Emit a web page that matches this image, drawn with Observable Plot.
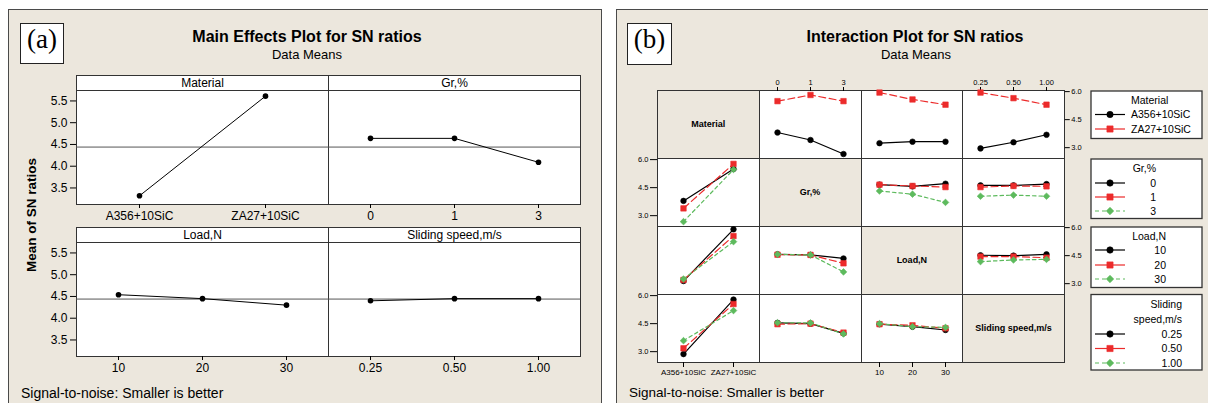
<!DOCTYPE html>
<html>
<head>
<meta charset="utf-8">
<script src="https://cdn.jsdelivr.net/npm/d3@7"></script>
<script src="https://cdn.jsdelivr.net/npm/@observablehq/plot@0.6"></script>
<style>
  html, body { margin: 0; padding: 0; background: #ffffff; }
  #root { position: relative; width: 1208px; height: 403px; overflow: hidden; background: #ffffff;
          font-family: "Liberation Sans", Arial, sans-serif; color: #000; }
  #root svg { overflow: visible; }
</style>
</head>
<body>
<div id="root"></div>
<script>
// ---------------- DATA ----------------
const materialLevels = ["A356+10SiC", "ZA27+10SiC"];
const grLevels = ["0", "1", "3"];
const loadLevels = ["10", "20", "30"];
const speedLevels = ["0.25", "0.50", "1.00"];
const factorNames = ["Material", "Gr,%", "Load,N", "Sliding speed,m/s"];

// Main effects (mean of SN ratios per factor level)
const mainMaterial = [3.32, 5.61];
const mainGr = [4.64, 4.64, 4.09];
const mainLoad = [4.54, 4.45, 4.30];
const mainSpeed = [4.40, 4.45, 4.45];
const overallMean = 4.44;
const mainYTicks = [3.5, 4.0, 4.5, 5.0, 5.5];

// Interaction means: trace factor "By" column factor; one inner array per trace level
const materialByGr    = [[3.81, 3.41, 2.66], [5.49, 5.82, 5.49]];
const materialByLoad  = [[3.24, 3.32, 3.32], [5.95, 5.58, 5.30]];
const materialBySpeed = [[2.96, 3.29, 3.69], [5.95, 5.65, 5.30]];
const grByMaterial    = [[3.79, 5.50], [3.39, 5.77], [2.68, 5.47]];
const grByLoad        = [[4.66, 4.57, 4.71], [4.66, 4.59, 4.53], [4.32, 4.15, 3.71]];
const grBySpeed       = [[4.62, 4.62, 4.69], [4.53, 4.59, 4.57], [4.04, 4.10, 4.04]];
const loadByMaterial  = [[3.14, 5.91], [3.20, 5.55], [3.25, 5.25]];
const loadByGr        = [[4.57, 4.54, 4.35], [4.55, 4.54, 4.09], [4.57, 4.54, 3.63]];
const loadBySpeed     = [[4.52, 4.50, 4.57], [4.45, 4.45, 4.39], [4.18, 4.27, 4.30]];
const speedByMaterial = [[2.87, 5.79], [3.18, 5.55], [3.59, 5.20]];
const speedByGr       = [[4.54, 4.50, 3.98], [4.47, 4.50, 4.02], [4.55, 4.54, 3.95]];
const speedByLoad     = [[4.47, 4.34, 4.16], [4.47, 4.41, 4.25], [4.50, 4.34, 4.30]];
const interYTicks = [3.0, 4.5, 6.0];

// ---------------- STYLE / LAYOUT ----------------
const FONT = '"Liberation Sans", Arial, sans-serif';
const BG = "#ece7dd";
const GRID = "#333333";
const traceStyles = [
  {color: "#000000", dash: null,      legendDash: null,    symbol: "circle",   r: 2.8},
  {color: "#ec2b2b", dash: "7,3.5",   legendDash: null,    symbol: "square",   r: 3.1},
  {color: "#5dba5d", dash: "3.5,3",   legendDash: "4,3",   symbol: "diamond2", r: 3.0}
];
const levels = [materialLevels, grLevels, loadLevels, speedLevels];
const mainMeans = [mainMaterial, mainGr, mainLoad, mainSpeed];
const interaction = [
  [null, materialByGr, materialByLoad, materialBySpeed],
  [grByMaterial, null, grByLoad, grBySpeed],
  [loadByMaterial, loadByGr, null, loadBySpeed],
  [speedByMaterial, speedByGr, speedByLoad, null]
];

const root = document.getElementById("root");
function box(left, top, w, h, style = {}, text) {
  const d = document.createElement("div");
  Object.assign(d.style, {position: "absolute", left: left + "px", top: top + "px",
    width: w + "px", height: h + "px", boxSizing: "border-box"}, style);
  if (text != null) d.textContent = text;
  root.appendChild(d);
  return d;
}
function place(node, left, top) {
  node.style.position = "absolute";
  node.style.left = left + "px";
  node.style.top = top + "px";
  root.appendChild(node);
}
function centeredText(cx, cy, w, h, text, style) {
  return box(cx - w / 2, cy - h / 2, w, h, Object.assign({textAlign: "center", lineHeight: h + "px", whiteSpace: "nowrap"}, style), text);
}

// ---------------- PANELS ----------------
box(8, 9, 594, 420, {background: BG, border: "1px solid #4a4a4a"});
box(616, 9, 620, 420, {background: BG, border: "1px solid #4a4a4a"});

// (a) / (b) tags
box(20, 23, 44, 41, {background: "#fff", border: "1px solid #222", textAlign: "center", lineHeight: "39px",
  font: '27px "Liberation Serif", "Times New Roman", serif'}, "(a)");
box(627, 23, 45, 42, {background: "#fff", border: "1px solid #222", textAlign: "center", lineHeight: "40px",
  font: '27px "Liberation Serif", "Times New Roman", serif'}, "(b)");

// titles
centeredText(307, 38, 400, 20, "Main Effects Plot for SN ratios", {font: `bold 16px ${FONT}`});
centeredText(307, 55, 200, 16, "Data Means", {font: `13px ${FONT}`});
centeredText(915, 38, 400, 20, "Interaction Plot for SN ratios", {font: `bold 16px ${FONT}`});
centeredText(916, 55, 200, 16, "Data Means", {font: `13px ${FONT}`});

// captions
box(21, 384, 300, 18, {font: `14px ${FONT}`, lineHeight: "18px", whiteSpace: "nowrap"}, "Signal-to-noise: Smaller is better");
box(629, 384, 300, 18, {font: `13.5px ${FONT}`, lineHeight: "18px", whiteSpace: "nowrap"}, "Signal-to-noise: Smaller is better");

// y title for main effects
centeredText(33.5, 215, 200, 20, "Mean of SN ratios", {font: `bold 13.5px ${FONT}`, transform: "rotate(-90deg)"});

// ---------------- MAIN EFFECTS ----------------
const meCols = [76, 328, 580];
const meRows = [{h0: 75, p0: 90, p1: 204}, {h0: 227, p0: 242, p1: 356}];
const meYDomain = [3.12, 5.74];
for (let r = 0; r < 2; r++) {
  for (let c = 0; c < 2; c++) {
    const f = r * 2 + c;
    const {h0, p0, p1} = meRows[r];
    const x0 = meCols[c], x1 = meCols[c + 1];
    const w = x1 - x0, h = p1 - p0;
    box(x0, h0, w + 1, p0 - h0 + 1, {background: "#fff", border: `1px solid ${GRID}`,
      font: `12px ${FONT}`, textAlign: "center", lineHeight: (p0 - h0 - 1) + "px"}, factorNames[f]);
    box(x0, p0, w + 1, h + 1, {background: "#fff", border: `1px solid ${GRID}`});
    const data = levels[f].map((lv, i) => ({level: lv, mean: mainMeans[f][i]}));
    const ml = 45, mr = 5, mb = 28;
    const hasY = c === 0;
    const svg = Plot.plot({
      width: w + ml + mr, height: h + mb,
      marginLeft: ml, marginRight: mr, marginTop: 0, marginBottom: mb,
      style: {background: "transparent", overflow: "visible", fontFamily: FONT, color: "#000"},
      x: {type: "point", domain: levels[f], padding: 0.5},
      y: hasY ? {domain: meYDomain} : {domain: meYDomain, axis: null},
      marks: [
        Plot.axisX({anchor: "bottom", tickSize: 4, tickPadding: 3, fontSize: 12, label: null}),
        hasY ? Plot.axisY({anchor: "left", ticks: mainYTicks, tickFormat: d3.format(".1f"), tickSize: 6, tickPadding: 3, fontSize: 12, label: null}) : null,
        Plot.ruleY([overallMean], {stroke: "#555", strokeWidth: 1}),
        Plot.line(data, {x: "level", y: "mean", stroke: "#000", strokeWidth: 1}),
        Plot.dot(data, {x: "level", y: "mean", r: 2.8, fill: "#000"})
      ].filter(Boolean)
    });
    place(svg, x0 - ml, p0);
  }
}

// ---------------- INTERACTION MATRIX ----------------
const ixX0 = 657, ixY0 = 90, cw = 101.75, rh = 68;
const ixYDomain = [2.42, 6.06];
for (let r = 0; r < 4; r++) {
  for (let c = 0; c < 4; c++) {
    const left = ixX0 + c * cw, top = ixY0 + r * rh;
    const diag = r === c;
    const cell = box(left, top, cw + 1, rh + 1, {background: diag ? BG : "#fff", border: `1px solid ${GRID}`});
    if (diag) {
      Object.assign(cell.style, {font: `bold 9px ${FONT}`, textAlign: "center", lineHeight: (rh - 1) + "px", whiteSpace: "nowrap"});
      cell.textContent = factorNames[r];
      continue;
    }
    const series = interaction[r][c];
    const xLv = levels[c], tLv = levels[r];
    const hasX = (r === 0 && (c === 1 || c === 3)) || (r === 3 && (c === 0 || c === 2));
    const hasY = (c === 0 && (r === 1 || r === 3)) || (c === 3 && (r === 0 || r === 2));
    const marks = [];
    if (hasX) marks.push(Plot.axisX({anchor: r === 0 ? "top" : "bottom", tickSize: r === 0 ? 4 : 5, tickPadding: 2,
      fontSize: r === 0 ? 7.5 : 8, label: null}));
    if (hasY) marks.push(Plot.axisY({anchor: c === 0 ? "left" : "right", ticks: interYTicks, tickFormat: d3.format(".1f"),
      tickSize: c === 0 ? 7 : 5, tickPadding: 2, fontSize: 7.5, label: null}));
    series.forEach((vals, t) => {
      const st = traceStyles[t];
      const data = xLv.map((lv, i) => ({x: lv, y: vals[i], trace: tLv[t]}));
      marks.push(Plot.line(data, {x: "x", y: "y", stroke: st.color, strokeWidth: 1.2, strokeDasharray: st.dash || undefined}));
      marks.push(Plot.dot(data, {x: "x", y: "y", symbol: st.symbol, r: st.r, fill: st.color, stroke: st.color, strokeWidth: 0.6}));
    });
    const M = 30;
    const svg = Plot.plot({
      width: cw + 2 * M, height: rh + 2 * M, margin: M,
      style: {background: "transparent", overflow: "visible", fontFamily: FONT, color: "#000"},
      x: hasX ? {type: "point", domain: xLv, padding: 0.5} : {type: "point", domain: xLv, padding: 0.5, axis: null},
      y: hasY ? {domain: ixYDomain} : {domain: ixYDomain, axis: null},
      marks
    });
    place(svg, left - M, top - M);
  }
}

// ---------------- LEGENDS ----------------
const legendDefs = [
  {title: ["Material"], lv: materialLevels, y0: 91, y1: 138.5, titleY: [100], entryY: [114.5, 129], textX: 1131, anchor: "start"},
  {title: ["Gr,%"], lv: grLevels, y0: 159, y1: 218.5, titleY: [168.5], entryY: [183, 197, 211], textX: 1156, anchor: "end"},
  {title: ["Load,N"], lv: loadLevels, y0: 227, y1: 287.5, titleY: [236.5], entryY: [250, 265, 279], textX: 1166, anchor: "end"},
  {title: ["Sliding", "speed,m/s"], lv: speedLevels, y0: 294.5, y1: 370, titleY: [304.5, 319.5], entryY: [334, 348.5, 363], textX: 1182, anchor: "end"}
];
const lg = d3.create("svg").attr("width", 1208).attr("height", 403)
  .style("position", "absolute").style("left", "0px").style("top", "0px").style("pointer-events", "none")
  .style("font-family", FONT).style("font-size", "10.5px");
const symMap = {circle: d3.symbolCircle, square: d3.symbolSquare, diamond2: d3.symbolDiamond2};
for (const L of legendDefs) {
  lg.append("rect").attr("x", 1091).attr("y", L.y0).attr("width", 111).attr("height", L.y1 - L.y0)
    .attr("fill", "#fff").attr("stroke", "#333").attr("stroke-width", 1.3);
  L.title.forEach((t, i) => lg.append("text").attr("x", L.textX).attr("y", L.titleY[i]).attr("dy", "0.35em")
    .attr("text-anchor", L.anchor).text(t));
  L.lv.forEach((lv, i) => {
    const st = traceStyles[i], y = L.entryY[i];
    lg.append("line").attr("x1", 1095).attr("x2", 1125).attr("y1", y).attr("y2", y)
      .attr("stroke", st.color).attr("stroke-width", 1.2).attr("stroke-dasharray", st.legendDash);
    lg.append("path").attr("transform", `translate(1110,${y})`)
      .attr("d", d3.symbol(symMap[st.symbol], Math.PI * (st.r + 0.4) ** 2)())
      .attr("fill", st.color).attr("stroke", st.color).attr("stroke-width", 0.6);
    lg.append("text").attr("x", L.textX).attr("y", y).attr("dy", "0.35em").attr("text-anchor", L.anchor).text(lv);
  });
}
root.appendChild(lg.node());
</script>
</body>
</html>
